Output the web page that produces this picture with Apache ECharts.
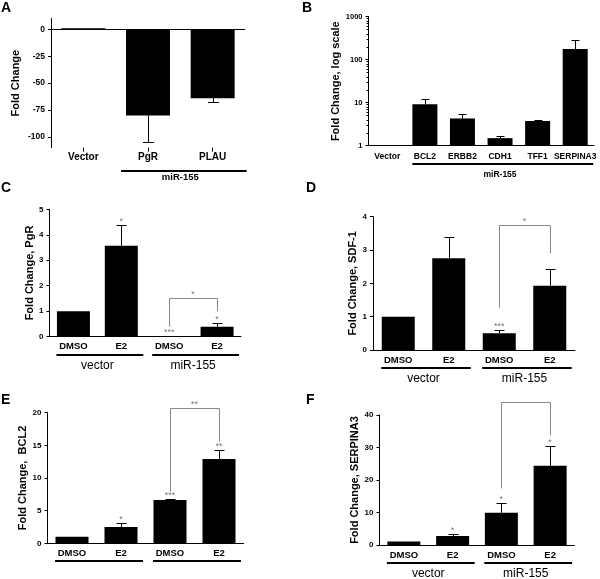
<!DOCTYPE html>
<html><head><meta charset="utf-8">
<script src="https://cdn.jsdelivr.net/npm/echarts@6/dist/echarts.min.js"></script>
<style>html,body{margin:0;padding:0;background:#fff}#c{width:600px;height:579px}</style>
</head><body><div id="c"></div>
<script>
// ---------------- data ----------------
const panelA_categories = ['Vector', 'PgR', 'PLAU'];
const panelA_values = [1, -80, -64];
const panelA_errorEnds = [1, -104.5, -67.5];
const panelA_yTicks = [0, -25, -50, -75, -100];
const panelA_groups = [['miR-155', 1, 2]];

const panelB_categories = ['Vector', 'BCL2', 'ERBB2', 'CDH1', 'TFF1', 'SERPINA3'];
const panelB_values = [1, 9.2, 4.3, 1.5, 3.75, 177];
const panelB_errorEnds = [1, 12.4, 5.4, 1.68, 4.0, 287];
const panelB_yTicks = [1, 10, 100, 1000];
const panelB_minorTicks = [2, 3, 4, 5, 6, 7, 8, 9, 20, 30, 40, 50, 60, 70, 80, 90, 200, 300, 400, 500, 600, 700, 800, 900];
const panelB_groups = [['miR-155', 1, 5]];

const treatmentCategories = ['DMSO', 'E2', 'DMSO', 'E2'];
const treatmentGroups = [['vector', 0, 1], ['miR-155', 2, 3]];

const panelC_values = [1, 3.57, 0.02, 0.39];
const panelC_errorEnds = [1, 4.38, 0.02, 0.52];
const panelC_stars = ['', '*', '***', '*'];
const panelC_bracket = [2, 0.39, 3, 1.5, 1.0, '*'];

const panelD_values = [1, 2.75, 0.5, 1.93];
const panelD_errorEnds = [1, 3.40, 0.6, 2.42];
const panelD_stars = ['', '', '***', ''];
const panelD_bracket = [2, 1.27, 3, 3.75, 2.9, '*'];

const panelE_values = [1, 2.5, 6.63, 12.9];
const panelE_errorEnds = [1, 3.06, 6.78, 14.3];
const panelE_stars = ['', '*', '***', '**'];
const panelE_bracket = [2, 7.9, 3, 20.7, 15.6, '**'];

const panelF_values = [1.1, 2.77, 9.9, 24.4];
const panelF_errorEnds = [1.1, 3.4, 12.8, 30.5];
const panelF_stars = ['', '*', '*', '*'];
const panelF_bracket = [2, 17.4, 3, 44.1, 33.8, ''];

// ---------------- helpers ----------------
const FF = 'Liberation Sans, Arial, sans-serif';
const option = { animation: false, backgroundColor: '#fff', title: [], grid: [], xAxis: [], yAxis: [], series: [] };
const px = v => Math.round(v) + 0.5;

function errorBarItem(capHalf) {
  return function (params, api) {
    const x = api.value(0);
    const p0 = api.coord([x, api.value(1)]);
    const p1 = api.coord([x, api.value(2)]);
    if (Math.abs(p1[1] - p0[1]) < 0.5) return { type: 'group', children: [] };
    const cx = px(p0[0]);
    return { type: 'group', children: [
      { type: 'line', shape: { x1: cx, y1: p0[1], x2: cx, y2: px(p1[1]) }, style: { stroke: '#000', lineWidth: 1 } },
      { type: 'line', shape: { x1: cx - capHalf, y1: px(p1[1]), x2: cx + capHalf, y2: px(p1[1]) }, style: { stroke: '#000', lineWidth: 1 } }
    ] };
  };
}
function starItem(stars) {
  return function (params, api) {
    const t = stars[params.dataIndex];
    if (!t) return { type: 'group', children: [] };
    const p = api.coord([api.value(0), api.value(1)]);
    return { type: 'text', style: { text: t, x: p[0], y: p[1] - 3.5, align: 'center', verticalAlign: 'middle', fill: '#777', font: '9px ' + FF } };
  };
}
function bracketItem(bracket) {
  return function (params, api) {
    const pL = api.coord([api.value(0), api.value(1)]);
    const pT1 = api.coord([api.value(0), api.value(3)]);
    const pR = api.coord([api.value(2), api.value(4)]);
    const ty = px(pT1[1]);
    const ch = [{ type: 'polyline', shape: { points: [[px(pL[0]), pL[1]], [px(pL[0]), ty], [px(pR[0]), ty], [px(pR[0]), pR[1]]] },
      style: { stroke: '#888', lineWidth: 1, fill: null } }];
    if (bracket[5]) ch.push({ type: 'text', style: { text: bracket[5], x: (pL[0] + pR[0]) / 2, y: ty - 3.5, align: 'center', verticalAlign: 'middle', fill: '#777', font: '9px ' + FF } });
    return { type: 'group', children: ch };
  };
}
function groupItem(groups, g) {
  return function (params, api) {
    const cs = params.coordSys;
    const bottom = cs.y + cs.height;
    const a = api.coord([api.value(0), api.value(1)])[0];
    const b = api.coord([api.value(2), api.value(1)])[0];
    const y = Math.round(bottom + g.lineDy);
    const ch = [{ type: 'rect', shape: { x: a - g.startOff, y: y - 1, width: (b + g.endOff) - (a - g.startOff), height: 2 }, style: { fill: '#000' } }];
    if (g.showText) ch.push({ type: 'text', style: { text: groups[params.dataIndex][0], x: (a + b) / 2, y: bottom + g.textDy, align: 'center', verticalAlign: 'middle', fill: '#000', font: g.font } });
    return { type: 'group', children: ch };
  };
}

function addPanel(p) {
  const gi = option.grid.length;
  option.grid.push(Object.assign({ containLabel: false }, p.grid));
  option.title.push({ text: p.letter, left: p.letterPos[0], top: p.letterPos[1], padding: 0,
    textStyle: { fontSize: 14, fontWeight: 'bold', color: '#000', fontFamily: FF } });
  const xi = option.xAxis.length;
  option.xAxis.push({
    gridIndex: gi, type: 'category', data: p.categories,
    axisLine: { show: p.showXLine !== false, onZero: false, lineStyle: { color: '#000', width: 1 } },
    axisTick: p.xTicks ? { show: true, alignWithLabel: true, length: 4, lineStyle: { color: '#000' } } : { show: false },
    axisLabel: { interval: 0, color: '#000', fontSize: p.catFont, fontWeight: 'bold', fontFamily: FF, margin: p.catMargin }
  });
  const yi = option.yAxis.length;
  const y = Object.assign({
    gridIndex: gi, name: p.yName, nameLocation: 'middle', nameGap: p.nameGap,
    nameTextStyle: { fontSize: 11, fontWeight: 'bold', color: '#000', fontFamily: FF },
    axisLine: { show: true, lineStyle: { color: '#000', width: 1 } },
    splitLine: { show: false },
    axisTick: { show: true, length: 3, lineStyle: { color: '#000' } },
    axisLabel: { color: '#000', fontSize: p.tickFont, fontWeight: 'bold', fontFamily: FF, margin: 6, formatter: v => String(v) }
  }, p.yAxis);
  if (p.yCustom) {
    y.axisLabel.customValues = p.yCustom;
    y.axisTick.customValues = p.yCustom;
  }
  option.yAxis.push(y);
  if (p.minorTicks) {
    option.yAxis.push({ gridIndex: gi, type: 'log', logBase: 10, min: p.yAxis.min, max: p.yAxis.max, position: 'left',
      axisLine: { show: false }, splitLine: { show: false }, axisLabel: { show: false },
      axisTick: { show: true, length: 2, customValues: p.minorTicks, lineStyle: { color: '#000' } } });
  }
  const bar = { type: 'bar', xAxisIndex: xi, yAxisIndex: yi, data: p.values, barWidth: p.barWidth,
    itemStyle: { color: '#000' }, silent: true };
  if (p.zeroLine) bar.markLine = { silent: true, symbol: ['none', 'none'], label: { show: false },
    lineStyle: { color: '#000', width: 1, type: 'solid' }, data: [{ yAxis: 0 }] };
  option.series.push(bar);
  option.series.push({ type: 'custom', xAxisIndex: xi, yAxisIndex: yi, silent: true,
    data: p.values.map((v, i) => [i, v, p.errorEnds[i]]), encode: { x: 0, y: [1, 2] },
    renderItem: errorBarItem(p.capHalf), z: 3 });
  if (p.stars) option.series.push({ type: 'custom', xAxisIndex: xi, yAxisIndex: yi, silent: true,
    data: p.errorEnds.map((v, i) => [i, v]), encode: { x: 0, y: 1 }, renderItem: starItem(p.stars), z: 4 });
  if (p.bracket) option.series.push({ type: 'custom', xAxisIndex: xi, yAxisIndex: yi, silent: true,
    data: [[p.bracket[0], p.bracket[1], p.bracket[2], p.bracket[3], p.bracket[4]]], encode: { x: 0, y: 1 },
    renderItem: bracketItem(p.bracket), z: 4 });
  option.series.push({ type: 'custom', xAxisIndex: xi, yAxisIndex: yi, silent: true,
    data: p.groups.map(g => [g[1], p.yAxis.min, g[2]]), encode: { x: 0, y: 1 },
    renderItem: groupItem(p.groups, p.groupStyle), z: 4 });
}

const treatGroupStyle = { lineDy: 18, textDy: 28.5, startOff: 17, endOff: 22, showText: true, font: '12px ' + FF };

addPanel({ letter: 'A', letterPos: [1, 1], grid: { left: 51, top: 18.5, width: 194, height: 129.2 },
  categories: panelA_categories, values: panelA_values, errorEnds: panelA_errorEnds,
  yAxis: { type: 'value', min: -110, max: 10 }, yCustom: panelA_yTicks, zeroLine: true, showXLine: false, xTicks: true,
  yName: 'Fold Change', nameGap: 30, barWidth: 44, capHalf: 5.5, catFont: 10, catMargin: 5, tickFont: 8.5,
  groups: panelA_groups, groupStyle: { lineDy: 23, textDy: 30, startOff: 27, endOff: 34, showText: true, font: 'bold 9.5px ' + FF } });

addPanel({ letter: 'B', letterPos: [302, 1], grid: { left: 368.5, top: 16.7, width: 225.5, height: 129 },
  categories: panelB_categories, values: panelB_values, errorEnds: panelB_errorEnds,
  yAxis: { type: 'log', logBase: 10, min: 1, max: 1000 }, minorTicks: panelB_minorTicks,
  yName: 'Fold Change, log scale', nameGap: 26, barWidth: 25, capHalf: 4, catFont: 8.5, catMargin: 6, tickFont: 7.5,
  groups: panelB_groups, groupStyle: { lineDy: 18.5, textDy: 29, startOff: 12.5, endOff: 18, showText: true, font: 'bold 8.5px ' + FF } });

addPanel({ letter: 'C', letterPos: [1, 181], grid: { left: 49.5, top: 209.3, width: 191.5, height: 127.4 },
  categories: treatmentCategories, values: panelC_values, errorEnds: panelC_errorEnds, stars: panelC_stars, bracket: panelC_bracket,
  yAxis: { type: 'value', min: 0, max: 5, interval: 1 },
  yName: 'Fold Change, PgR', nameGap: 13, barWidth: 33, capHalf: 5, catFont: 9.5, catMargin: 5, tickFont: 8,
  groups: treatmentGroups, groupStyle: treatGroupStyle });

addPanel({ letter: 'D', letterPos: [306, 181], grid: { left: 373, top: 216.7, width: 202, height: 133.3 },
  categories: treatmentCategories, values: panelD_values, errorEnds: panelD_errorEnds, stars: panelD_stars, bracket: panelD_bracket,
  yAxis: { type: 'value', min: 0, max: 4, interval: 1 },
  yName: 'Fold Change, SDF-1', nameGap: 14, barWidth: 33, capHalf: 5, catFont: 9.5, catMargin: 5, tickFont: 8,
  groups: treatmentGroups, groupStyle: treatGroupStyle });

addPanel({ letter: 'E', letterPos: [1, 393], grid: { left: 47.5, top: 412.7, width: 196, height: 130.6 },
  categories: treatmentCategories, values: panelE_values, errorEnds: panelE_errorEnds, stars: panelE_stars, bracket: panelE_bracket,
  yAxis: { type: 'value', min: 0, max: 20, interval: 5 },
  yName: 'Fold Change,  BCL2', nameGap: 19, barWidth: 33, capHalf: 5, catFont: 9.5, catMargin: 5, tickFont: 8,
  groups: treatmentGroups, groupStyle: Object.assign({}, treatGroupStyle, { showText: false }) });

addPanel({ letter: 'F', letterPos: [306, 393], grid: { left: 379.5, top: 415, width: 195, height: 130 },
  categories: treatmentCategories, values: panelF_values, errorEnds: panelF_errorEnds, stars: panelF_stars, bracket: panelF_bracket,
  yAxis: { type: 'value', min: 0, max: 40, interval: 10 },
  yName: 'Fold Change, SERPINA3', nameGap: 16, barWidth: 33, capHalf: 5, catFont: 9.5, catMargin: 5, tickFont: 8,
  groups: treatmentGroups, groupStyle: treatGroupStyle });

const chart = echarts.init(document.getElementById('c'), null, { renderer: 'canvas' });
chart.setOption(option);
</script></body></html>
